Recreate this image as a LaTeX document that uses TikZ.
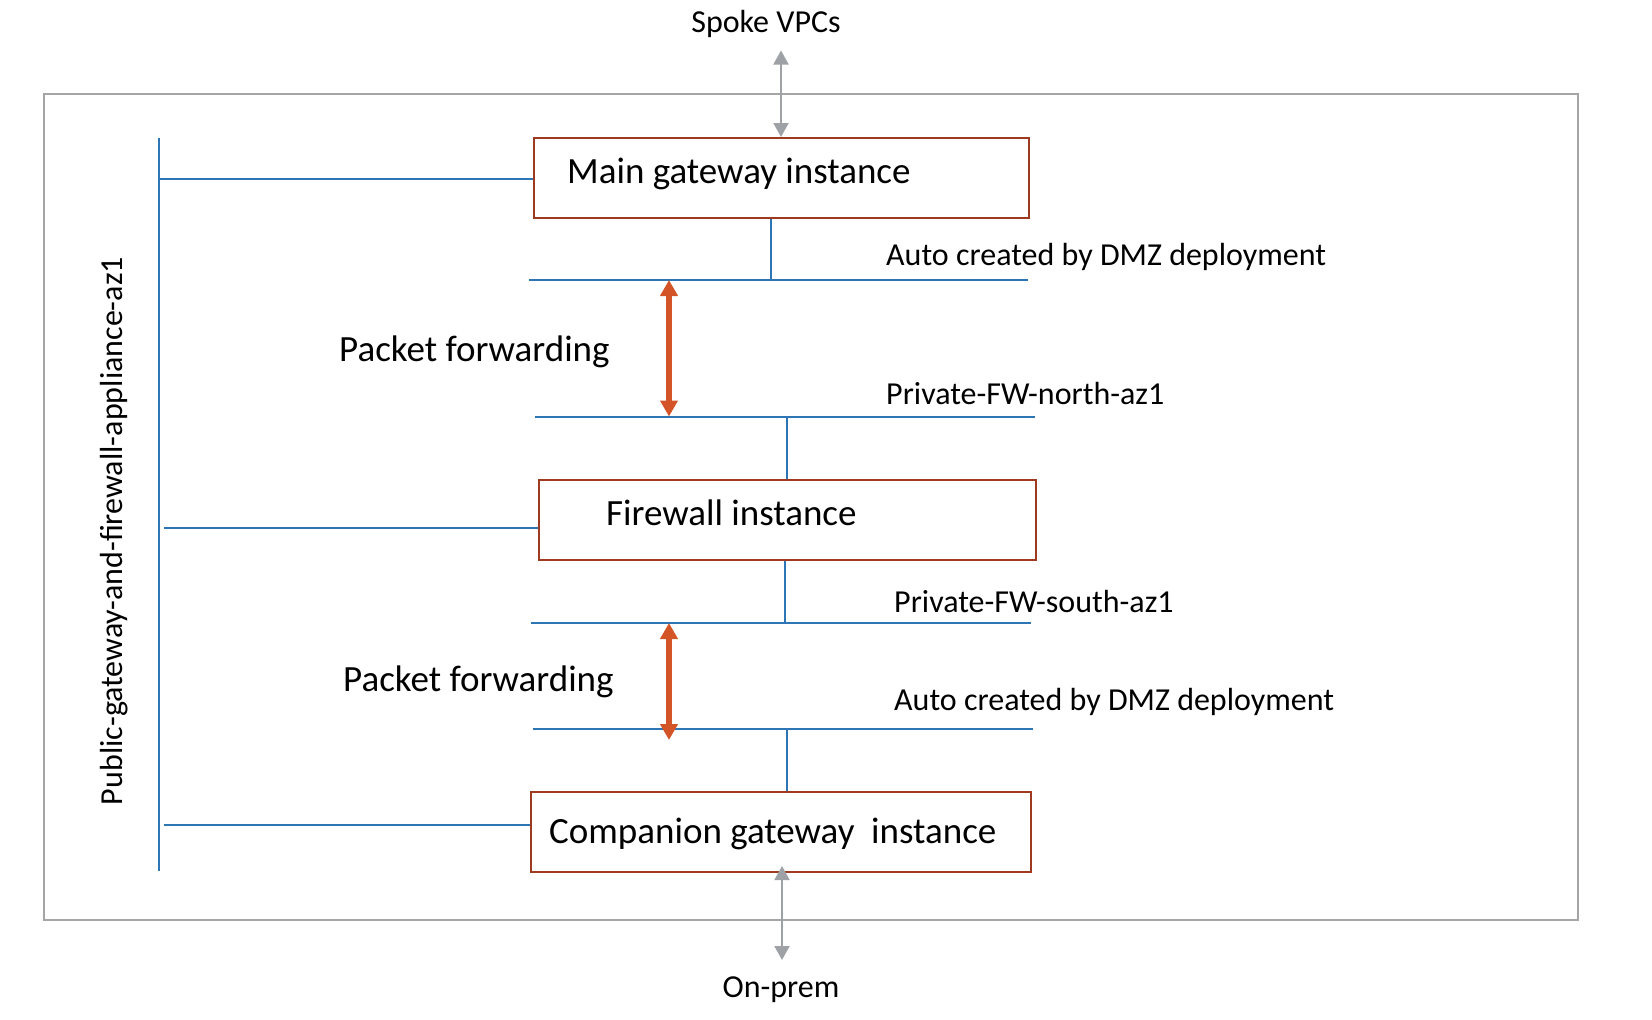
\documentclass[tikz,border=0pt]{standalone}
\usepackage{fontspec}
\setmainfont{Carlito}
\usetikzlibrary{arrows.meta}
\definecolor{busblue}{HTML}{2E75B6}
\definecolor{boxred}{HTML}{9E3A1F}
\definecolor{fwdorange}{HTML}{D35427}
\definecolor{framegray}{HTML}{A5A5A5}
\definecolor{arrowgray}{HTML}{9EA2A6}
\begin{document}
\begin{tikzpicture}[x=1pt,y=-1pt,
  inst/.style={draw=boxred, line width=2pt, inner sep=0pt, anchor=north west, rectangle},
  frm/.style={draw=framegray, line width=2pt, inner sep=0pt, anchor=north west, rectangle},
  bus/.style={draw=busblue, line width=2pt},
  big/.style={font=\fontsize{37}{44}\selectfont, inner sep=0pt, anchor=base west},
  small/.style={font=\fontsize{32}{38}\selectfont, inner sep=0pt, anchor=base west},
  fwd/.style={draw=fwdorange, line width=6pt, {Triangle[width=17pt,length=16pt]}-{Triangle[width=17pt,length=16pt]}},
  ext/.style={draw=arrowgray, line width=2pt, {Triangle[width=15pt,length=14pt]}-{Triangle[width=15pt,length=14pt]}}
]
\useasboundingbox (0,0) rectangle (1652,1020);

% outer frame
\node[frm, minimum width=1534pt, minimum height=826pt] (frame) at (43,93) {};

% instance boxes
\node[inst, minimum width=495pt, minimum height=80pt] (main) at (533,137) {};
\node[inst, minimum width=497pt, minimum height=80pt] (fw) at (538,479) {};
\node[inst, minimum width=500pt, minimum height=80pt] (comp) at (530,791) {};

% box texts
\node[big] (maintxt) at (567,183) {Main gateway instance};
\node[big] (fwtxt) at (606,525) {Firewall instance};
\node[big] (comptxt) at (549,843) {Companion gateway~~instance};

% bus line end points
\coordinate (aL) at (529,280);   \coordinate (aR) at (1028,280);
\coordinate (bL) at (535,416.5); \coordinate (bR) at (1035,416.5);
\coordinate (cL) at (531,623);   \coordinate (cR) at (1031,623);
\coordinate (dL) at (533,728.5); \coordinate (dR) at (1033,728.5);
\draw[bus] (aL) -- (aR);
\draw[bus] (bL) -- (bR);
\draw[bus] (cL) -- (cR);
\draw[bus] (dL) -- (dR);

% drops from boxes to bus lines
\coordinate (aT) at (771,280);
\coordinate (bT) at (787,416.5);
\coordinate (cT) at (785,623);
\coordinate (dT) at (787,728.5);
\draw[bus] (aT |- main.south) -- (aT);
\draw[bus] (bT) -- (bT |- fw.north);
\draw[bus] (cT |- fw.south) -- (cT);
\draw[bus] (dT) -- (dT |- comp.north);

% left vertical bus and stubs
\coordinate (vTop) at (159,138);
\coordinate (vBot) at (159,871);
\draw[bus] (vTop) -- (vBot);
\coordinate (s1) at (159,179);
\coordinate (s2) at (164,528);
\coordinate (s3) at (164,824.5);
\draw[bus] (s1) -- (s1 -| main.west);
\draw[bus] (s2) -- (s2 -| fw.west);
\draw[bus] (s3) -- (s3 -| comp.west);

\node[small, anchor=base, rotate=90] (vlabel) at (122,531) {Public-gateway-and-firewall-appliance-az1};

% subnet labels
\node[small] (auto1) at (886,265) {Auto created by DMZ deployment};
\node[small] (north) at (886,404) {Private-FW-north-az1};
\node[small] (south) at (894,612) {Private-FW-south-az1};
\node[small] (auto2) at (894,710) {Auto created by DMZ deployment};

% packet forwarding
\node[big] (pf1) at (339,361) {Packet forwarding};
\node[big] (pf2) at (343,691) {Packet forwarding};
\coordinate (f1a) at (669,280);
\coordinate (f1b) at (669,416.5);
\coordinate (f2a) at (669,623);
\coordinate (f2b) at (669,740);
\draw[fwd] (f1a) -- (f1b);
\draw[fwd] (f2a) -- (f2b);

% external links
\node[small, anchor=base] (spoke) at (766,32) {Spoke VPCs};
\node[small, anchor=base] (onprem) at (781,997) {On-prem};
\coordinate (e1) at (781,50.5);
\coordinate (e2) at (782,866);
\coordinate (e3) at (782,960);
\draw[ext] (e1) -- (e1 |- main.north);
\draw[ext] (e2) -- (e3);
\end{tikzpicture}
\end{document}
